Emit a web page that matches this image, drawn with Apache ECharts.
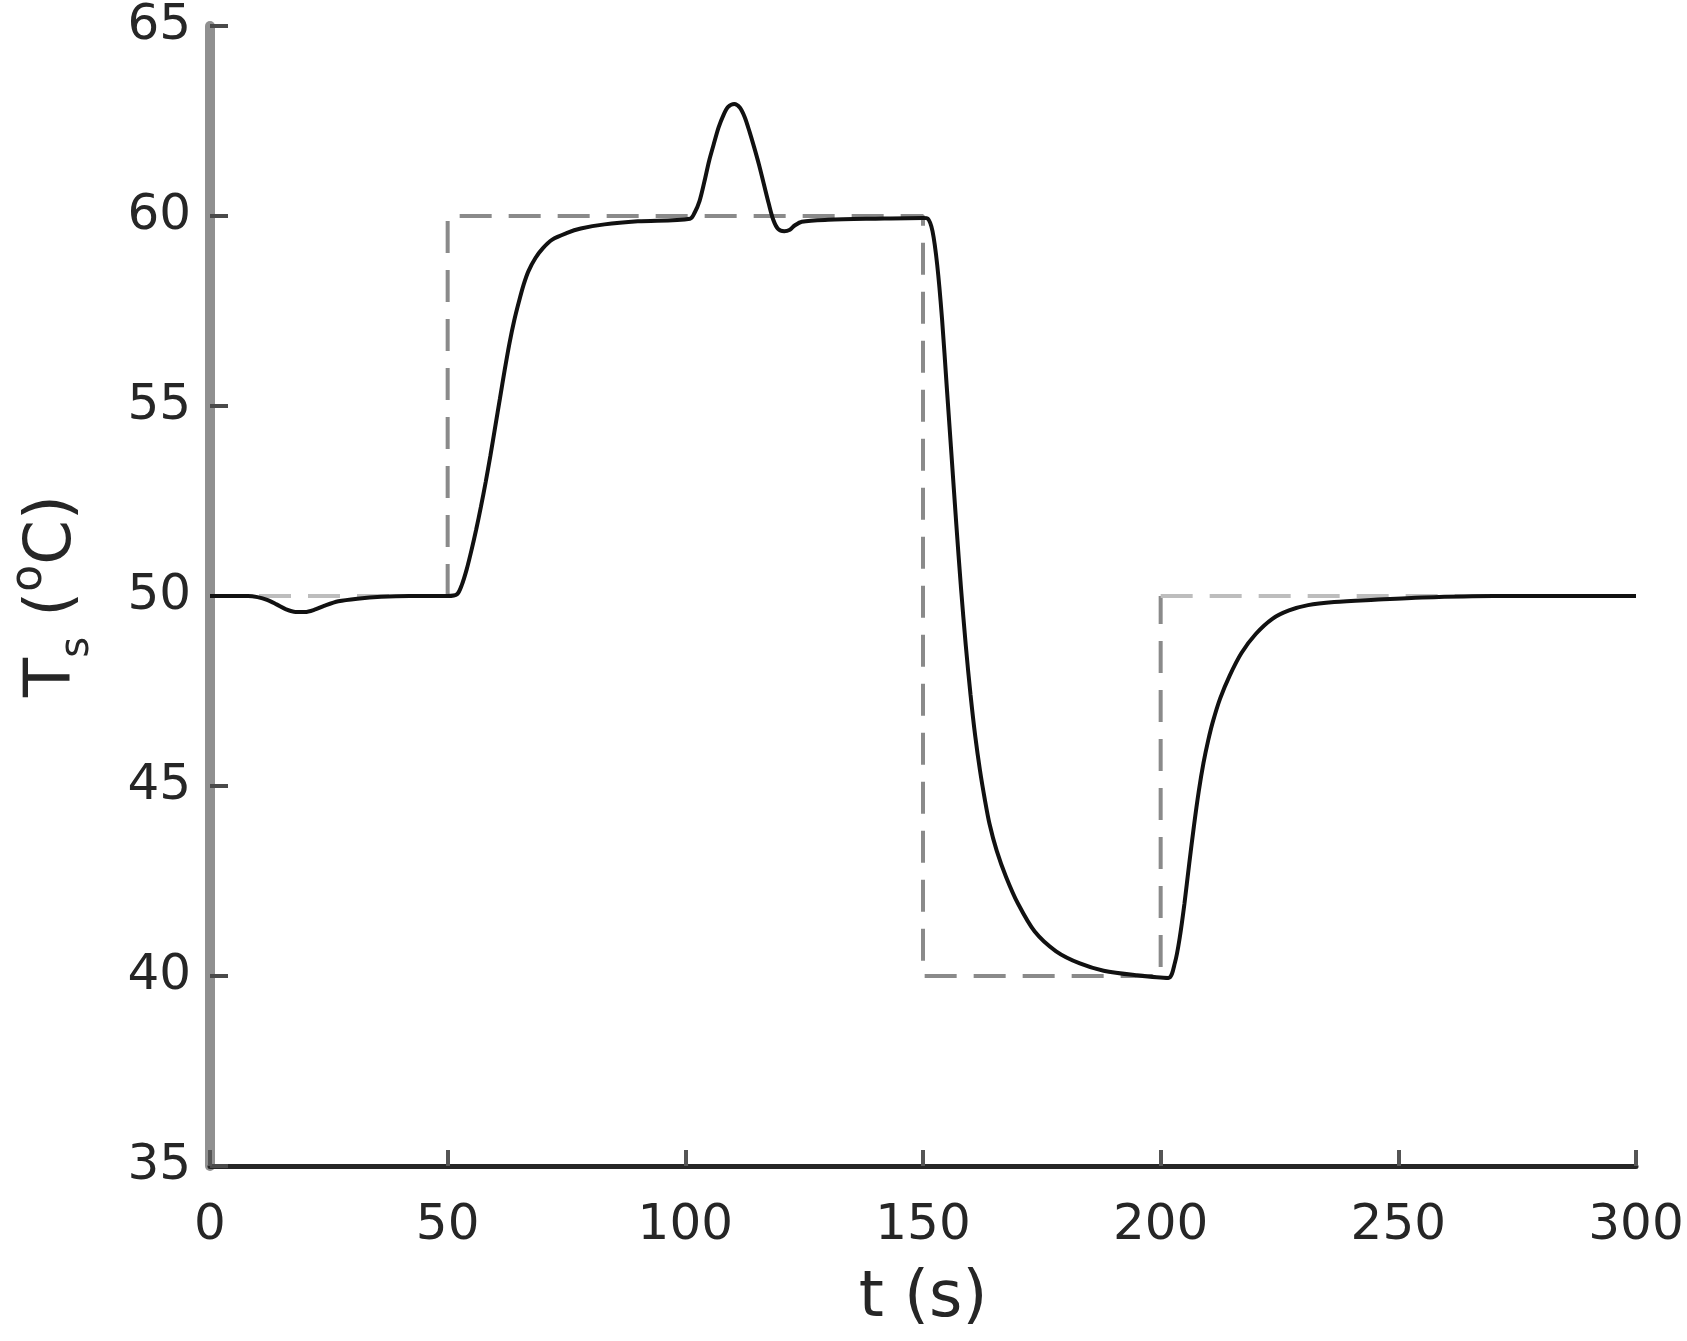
<!DOCTYPE html>
<html>
<head>
<meta charset="utf-8">
<style>
  html, body { margin: 0; padding: 0; background: #ffffff; }
  #chart { width: 1687px; height: 1341px; }
</style>
<script src="https://cdn.jsdelivr.net/npm/echarts@6/dist/echarts.min.js"></script>
</head>
<body>
<div id="chart"></div>
<script>
// ---- data ----
const xTicks = [0, 50, 100, 150, 200, 250, 300];
const yTicks = [35, 40, 45, 50, 55, 60, 65];

// set-point (dashed)
const spTime = [0, 50, 50, 150, 150, 200, 200, 300];
const spTemp = [50, 50, 60, 60, 40, 40, 50, 50];

// measured temperature T_s (solid)
const timeS = [
  0, 8, 10, 12, 14, 16, 18, 20, 22, 24, 27, 31, 36, 42, 50,
  52, 53, 54, 55, 56, 57, 58, 59, 60, 61, 62, 63, 64, 65, 66, 67, 68.5, 70, 72, 75, 78, 83, 90, 101,
  102, 103, 104, 105, 106, 107, 108, 109, 110.3, 111.5, 112.5, 113.5, 114.5, 115.5, 116.5, 117.5,
  118.5, 119.5, 120.8, 122, 123, 124.5, 130, 140, 150,
  151, 152, 153, 154, 155, 156, 157, 158, 159, 160, 161, 162, 163, 164, 165.5, 167.5, 170, 173.5,
  178, 183, 188, 195, 201.6,
  203, 204, 205, 206, 207, 208, 209, 210, 211, 212.5, 214.5, 217, 220, 223.5, 227, 231, 236.5,
  245, 255, 270, 300];
const tempC = [
  50, 50, 49.97, 49.9, 49.78, 49.65, 49.58, 49.58, 49.64, 49.74, 49.86, 49.93, 49.98, 50, 50,
  50.05, 50.3, 50.7, 51.2, 51.75, 52.35, 53.0, 53.7, 54.45, 55.2, 55.95, 56.65, 57.25, 57.75, 58.2,
  58.55, 58.9, 59.15, 59.38, 59.55, 59.67, 59.78, 59.86, 59.93,
  60.1, 60.4, 60.9, 61.45, 61.9, 62.33, 62.65, 62.87, 62.95, 62.85, 62.6, 62.22, 61.8, 61.35, 60.85,
  60.35, 59.9, 59.66, 59.6, 59.64, 59.75, 59.85, 59.9, 59.93, 59.95,
  59.93, 59.6, 58.7, 57.3, 55.5, 53.7, 51.9, 50.2, 48.7, 47.4, 46.3, 45.4, 44.65, 44.0, 43.3, 42.6,
  41.9, 41.17, 40.65, 40.33, 40.14, 40.02, 39.95,
  40.35, 41.0, 41.9, 42.95, 43.95, 44.85, 45.6, 46.2, 46.7, 47.3, 47.9, 48.5, 49.0, 49.4, 49.62,
  49.76, 49.84, 49.9, 49.96, 50, 50];

const spData = spTime.map((t, i) => [t, spTemp[i]]);
const tsData = timeS.map((t, i) => [t, tempC[i]]);
// the two outer 50-level pieces of the set-point look lighter in the reference
const spFirst = spData.slice(0, 2);
const spMiddle = spData.slice(1, 7);
const spLast = spData.slice(6);

const FONT = 'DejaVu Sans';
const TXT = '#262626';
const DASH = [32, 17];

const chart = echarts.init(document.getElementById('chart'), null, { renderer: 'canvas' });
chart.setOption({
  animation: false,
  backgroundColor: '#ffffff',
  grid: { left: 205, right: 51, top: 26, bottom: 175, containLabel: false },
  xAxis: {
    type: 'value',
    min: xTicks[0], max: xTicks[xTicks.length - 1], interval: 50,
    name: 't (s)',
    nameLocation: 'middle',
    nameGap: 101,
    nameTextStyle: { fontFamily: FONT, fontSize: 64, color: TXT },
    axisLine: { show: true, onZero: false, lineStyle: { color: '#262626', width: 5 } },
    axisTick: { show: true, inside: true, length: 16, lineStyle: { color: '#555555', width: 4 } },
    axisLabel: { fontFamily: FONT, fontSize: 50, color: TXT, margin: 35 },
    splitLine: { show: false }
  },
  yAxis: {
    type: 'value',
    min: yTicks[0], max: yTicks[yTicks.length - 1], interval: 5,
    name: 'T{sub|s} ({sup|o}C)',
    nameLocation: 'middle',
    nameGap: 112,
    nameTextStyle: {
      fontFamily: FONT, fontSize: 64, color: TXT, lineHeight: 90,
      rich: {
        sub: { fontFamily: FONT, fontSize: 40, color: TXT, lineHeight: 26, verticalAlign: 'bottom' },
        sup: { fontFamily: FONT, fontSize: 44, color: TXT, lineHeight: 58, verticalAlign: 'top' }
      }
    },
    axisLine: { show: true, onZero: false, lineStyle: { color: '#909090', width: 10 } },
    axisTick: { show: true, inside: true, length: 18, lineStyle: { color: '#4a4a4a', width: 4 } },
    axisLabel: { fontFamily: FONT, fontSize: 50, color: TXT, margin: 19, padding: [16, 0, 0, 0] },
    splitLine: { show: false }
  },
  series: [
    {
      type: 'line', data: spFirst, showSymbol: false, symbol: 'none',
      lineStyle: { color: '#bdbdbd', width: 4, type: DASH }, z: 2
    },
    {
      type: 'line', data: spMiddle, showSymbol: false, symbol: 'none',
      lineStyle: { color: '#8a8a8a', width: 4, type: DASH }, z: 2
    },
    {
      type: 'line', data: spLast, showSymbol: false, symbol: 'none',
      lineStyle: { color: '#bdbdbd', width: 4, type: DASH }, z: 2
    },
    {
      type: 'line',
      data: tsData,
      showSymbol: false,
      symbol: 'none',
      smooth: 0.3,
      lineStyle: { color: '#111111', width: 4 },
      z: 3
    }
  ]
});
</script>
</body>
</html>
